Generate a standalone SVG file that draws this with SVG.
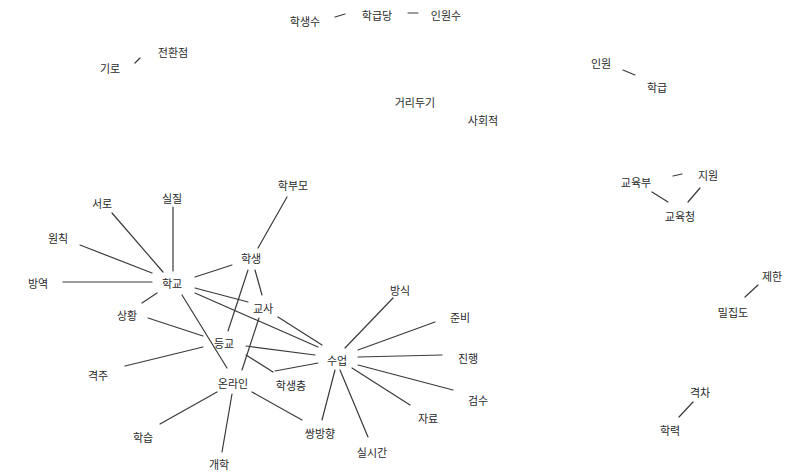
<svg xmlns="http://www.w3.org/2000/svg" width="793" height="474" viewBox="0 0 793 474">
<style>
.bg{fill:#ffffff}
.e{stroke:#3a3a3a;stroke-width:1.2;fill:none;stroke-linecap:round}
.t{font-family:"Noto Sans CJK KR","Noto Sans",sans-serif;font-size:11px;fill:#2a2a2a;text-anchor:middle;dominant-baseline:central}
</style>
<rect class="bg" x="0" y="0" width="793" height="474"/>
<g id="connectors">
<line class="e" x1="335" y1="17" x2="345" y2="14"/>
<line class="e" x1="408" y1="13" x2="418" y2="13"/>
<line class="e" x1="135" y1="63" x2="140" y2="58"/>
<line class="e" x1="623" y1="70" x2="635" y2="75"/>
<line class="e" x1="673" y1="176" x2="682" y2="174"/>
<line class="e" x1="652" y1="192" x2="668" y2="202"/>
<line class="e" x1="700" y1="188" x2="688" y2="202"/>
<line class="e" x1="758" y1="285" x2="745" y2="297"/>
<line class="e" x1="693" y1="402" x2="679" y2="417"/>
<line class="e" x1="112" y1="213" x2="163" y2="272"/>
<line class="e" x1="173" y1="207" x2="173" y2="271"/>
<line class="e" x1="80" y1="245" x2="152" y2="273"/>
<line class="e" x1="63" y1="282" x2="152" y2="282"/>
<line class="e" x1="157" y1="293" x2="142" y2="303"/>
<line class="e" x1="195" y1="277" x2="232" y2="265"/>
<line class="e" x1="195" y1="288" x2="248" y2="302"/>
<line class="e" x1="195" y1="293" x2="318" y2="347"/>
<line class="e" x1="182" y1="295" x2="227" y2="368"/>
<line class="e" x1="287" y1="197" x2="258" y2="248"/>
<line class="e" x1="248" y1="270" x2="228" y2="331"/>
<line class="e" x1="255" y1="270" x2="262" y2="295"/>
<line class="e" x1="259" y1="318" x2="242" y2="370"/>
<line class="e" x1="148" y1="318" x2="203" y2="336"/>
<line class="e" x1="125" y1="366" x2="203" y2="347"/>
<line class="e" x1="278" y1="317" x2="322" y2="345"/>
<line class="e" x1="246" y1="346" x2="315" y2="355"/>
<line class="e" x1="246" y1="355" x2="273" y2="372"/>
<line class="e" x1="275" y1="371" x2="318" y2="363"/>
<line class="e" x1="217" y1="392" x2="160" y2="424"/>
<line class="e" x1="232" y1="394" x2="222" y2="452"/>
<line class="e" x1="252" y1="392" x2="302" y2="420"/>
<line class="e" x1="345" y1="348" x2="393" y2="298"/>
<line class="e" x1="358" y1="350" x2="435" y2="322"/>
<line class="e" x1="358" y1="357" x2="442" y2="355"/>
<line class="e" x1="358" y1="365" x2="453" y2="390"/>
<line class="e" x1="352" y1="368" x2="410" y2="405"/>
<line class="e" x1="340" y1="370" x2="368" y2="437"/>
<line class="e" x1="335" y1="370" x2="322" y2="420"/>
</g>
<g id="n-haksaengsu"><text class="t" x="305" y="21">학생수</text></g>
<g id="n-hakgeupdang"><text class="t" x="377" y="15">학급당</text></g>
<g id="n-inwonsu"><text class="t" x="446" y="15">인원수</text></g>
<g id="n-giro"><text class="t" x="110" y="68">기로</text></g>
<g id="n-jeonhwanjeom"><text class="t" x="173" y="52">전환점</text></g>
<g id="n-georidugi"><text class="t" x="415" y="102">거리두기</text></g>
<g id="n-sahoejeok"><text class="t" x="483" y="120">사회적</text></g>
<g id="n-inwon"><text class="t" x="601" y="63">인원</text></g>
<g id="n-hakgeup"><text class="t" x="657" y="87">학급</text></g>
<g id="n-gyoyukbu"><text class="t" x="636" y="182">교육부</text></g>
<g id="n-jiwon"><text class="t" x="708" y="175">지원</text></g>
<g id="n-gyoyukcheong"><text class="t" x="680" y="216">교육청</text></g>
<g id="n-jehan"><text class="t" x="772" y="276">제한</text></g>
<g id="n-miljipdo"><text class="t" x="733" y="312">밀집도</text></g>
<g id="n-gyeokcha"><text class="t" x="700" y="392">격차</text></g>
<g id="n-hakryeok"><text class="t" x="670" y="430">학력</text></g>
<g id="n-hakgyo"><text class="t" x="172" y="283">학교</text></g>
<g id="n-seoro"><text class="t" x="102" y="203">서로</text></g>
<g id="n-siljil"><text class="t" x="172" y="198">실질</text></g>
<g id="n-wonchik"><text class="t" x="58" y="238">원칙</text></g>
<g id="n-bangyeok"><text class="t" x="38" y="283">방역</text></g>
<g id="n-sanghwang"><text class="t" x="127" y="315">상황</text></g>
<g id="n-hakbumo"><text class="t" x="293" y="185">학부모</text></g>
<g id="n-haksaeng"><text class="t" x="251" y="258">학생</text></g>
<g id="n-gyosa"><text class="t" x="263" y="308">교사</text></g>
<g id="n-deunggyo"><text class="t" x="224" y="343">등교</text></g>
<g id="n-online"><text class="t" x="233" y="383">온라인</text></g>
<g id="n-gyeokju"><text class="t" x="98" y="375">격주</text></g>
<g id="n-hakseup"><text class="t" x="143" y="437">학습</text></g>
<g id="n-gaehak"><text class="t" x="219" y="464">개학</text></g>
<g id="n-haksaengcheung"><text class="t" x="291" y="385">학생층</text></g>
<g id="n-ssangbanghyang"><text class="t" x="320" y="433">쌍방향</text></g>
<g id="n-sueop"><text class="t" x="337" y="360">수업</text></g>
<g id="n-bangsik"><text class="t" x="400" y="290">방식</text></g>
<g id="n-junbi"><text class="t" x="460" y="317">준비</text></g>
<g id="n-jinhaeng"><text class="t" x="468" y="358">진행</text></g>
<g id="n-geomsu"><text class="t" x="478" y="400">검수</text></g>
<g id="n-jaryo"><text class="t" x="428" y="418">자료</text></g>
<g id="n-silsigan"><text class="t" x="372" y="452">실시간</text></g>
</svg>
